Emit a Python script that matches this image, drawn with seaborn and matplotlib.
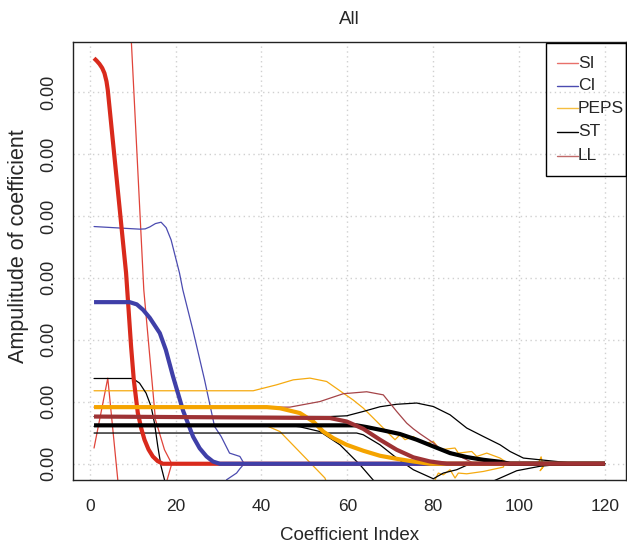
import matplotlib
matplotlib.use("Agg")
import matplotlib.pyplot as plt
import seaborn as sns
from matplotlib.lines import Line2D
from matplotlib.patches import Rectangle
from matplotlib.ticker import FormatStrFormatter

# ---------------- data ----------------
methods = ["SI", "CI", "PEPS", "ST", "LL"]

# SI - smoothed (thick)
si_thick_x = [1, 1.6, 2.26, 2.9, 3.43, 3.9, 4.2, 4.59, 5.36, 6.13, 6.92, 7.69, 8.46, 9.63, 10.26, 11.19,
              12.0, 12.75, 13.7, 14.69, 15.8, 17.0, 120]
si_thick_y = [0.003272, 0.003252, 0.003226, 0.003193, 0.003151, 0.003085, 0.003016, 0.002881, 0.002613,
              0.002347, 0.002075, 0.001806, 0.001540, 0.000946, 0.000677, 0.000411, 0.000285, 0.000194,
              0.000115, 0.000059, 0.000022, 0.0, 0.0]
# SI - raw (thin), two visible pieces
si_thin_a_x = [1, 4.2, 6.53, 6.76]
si_thin_a_y = [0.000127, 0.000691, -0.000129, -0.00021]
si_thin_b_x = [9.44, 12.59, 15.31, 17.41, 19.1, 17.7]
si_thin_b_y = [0.00358, 0.001403, 0.000355, 0.000113, 0.0, -0.000169]

# CI
ci_thick_x = [1, 9.3, 10.96, 12.42, 13.99, 16.32, 17.72, 19.35, 21.75, 24.08, 25.6, 27.2, 28.7, 30.3, 120]
ci_thick_y = [0.001304, 0.001304, 0.001286, 0.001242, 0.001177, 0.001054, 0.000919, 0.00071, 0.000427,
              0.000218, 0.000125, 0.000059, 0.000018, 0.0, 0.0]
ci_thin_x = [1, 11.59, 12.9, 13.99, 15.3, 16.62, 17.8, 18.95, 20.91, 21.68, 24.01, 26.74, 29.07, 30.61,
             32.56, 34.97, 35.97, 34.97, 34.2, 31.87, 31.2]
ci_thin_y = [0.001914, 0.001893, 0.001895, 0.001911, 0.001938, 0.001949, 0.001905, 0.001806, 0.001538,
             0.001403, 0.001081, 0.000677, 0.000301, 0.00022, 0.000086, 0.000059, 0.0, -0.00004,
             -0.000075, -0.000129, -0.00021]

# PEPS
peps_thick_x = [1, 41.26, 44.29, 48.95, 52.05, 54.38, 56.71, 59.84, 63.71, 67.6, 71.49, 75.36, 79.25, 120]
peps_thick_y = [0.000457, 0.000457, 0.000448, 0.000409, 0.000341, 0.00026, 0.000207, 0.000153, 0.000105,
                0.0000645, 0.00004, 0.0000185, 0.0, 0.0]
peps_thin_x = [1, 38.07, 43.52, 47.39, 51.28, 55.17, 59.04, 61.3, 63.71, 66.04, 68.37, 69.93, 71.1, 72.26,
               73.43, 75.36, 76.92, 78.48, 80.02, 81.59, 85.08, 85.85, 88.97, 90.14, 92.47, 95.57, 96.74,
               96.34, 91.68, 87.81, 85.85, 85.08, 83.92, 82.35, 81.19, 80.42, 79.72]
peps_thin_y = [0.000589, 0.000589, 0.000637, 0.000677, 0.000691, 0.000664, 0.00057, 0.000516, 0.000449,
               0.000369, 0.000288, 0.000234, 0.000194, 0.000234, 0.000194, 0.00022, 0.00018, 0.000167,
               0.00018, 0.000113, 0.000127, 0.000086, 0.000099, 0.000059, 0.000086, 0.000046, 0.0000185,
               -0.000027, -0.000062, -0.000081, -0.000075, -0.000115, -0.000048, -0.000089, -0.000075,
               -0.000129, -0.00021]
peps_thin2_x = [41.56, 44.29, 54.78, 55.24]
peps_thin2_y = [0.000301, 0.00026, -0.000115, -0.000161]
peps_thin3_x = [102.56, 104.43, 105.13, 105.6, 104.9, 106.06, 109.56]
peps_thin3_y = [0.0, 0.0, 0.000056, -0.000024, -0.000056, 0.0, 0.0]

# ST
st_thick_x = [1, 62.17, 64.5, 68.37, 72.26, 76.15, 80.02, 83.92, 87.81, 91.68, 95.57, 97.9, 120]
st_thick_y = [0.00031, 0.00031, 0.000296, 0.000269, 0.00024, 0.000194, 0.00014, 0.000086, 0.000054,
              0.000032, 0.000016, 0.0, 0.0]
st_thin1_x = [1, 10.02, 11.59, 13.12, 14.29, 15.08, 15.85, 16.62, 17.41, 17.72]
st_thin1_y = [0.000688, 0.000688, 0.000651, 0.00057, 0.000462, 0.000328, 0.00014, -0.000022, -0.000129, -0.00021]
st_thin2_x = [1, 48.02, 48.95, 53.61, 58.28, 62.94, 66.43, 67.13]
st_thin2_y = [0.000302, 0.000302, 0.000298, 0.00026, 0.000153, -0.000008, -0.000148, -0.00021]
st_thin3_x = [1, 62.17, 63.71, 67.6, 71.49, 75.36, 80.02, 82.35, 85.48, 88.58, 120]
st_thin3_y = [0.000248, 0.000248, 0.000234, 0.000153, 0.000046, -0.000048, -0.000121, -0.000075,
              -0.000048, 0.0, 0.0]
st_thin4_x = [1, 55.94, 59.84, 63.71, 67.6, 71.49, 76.15, 80.02, 83.92, 87.81, 91.68, 95.57, 97.9,
              101.0, 104.9, 111.12, 114.2, 120]
st_thin4_y = [0.000381, 0.000381, 0.000387, 0.000422, 0.00046, 0.00048, 0.00049, 0.000462, 0.000395,
              0.000288, 0.00022, 0.000153, 0.000099, 0.000046, 0.000032, 0.00001, 0.0, 0.0]
st_thin5_x = [92.77, 93.64, 99.46, 104.9, 111.12, 120]
st_thin5_y = [-0.00021, -0.000145, -0.000056, -0.00002, 0.0, 0.0]

# LL
ll_thick_x = [1, 55.94, 59.84, 63.71, 67.6, 71.49, 75.36, 79.25, 83.15, 120]
ll_thick_y = [0.000381, 0.000369, 0.000341, 0.000282, 0.000194, 0.000113, 0.000052, 0.0000185, 0.0, 0.0]
ll_thin_x = [1, 46.62, 53.61, 59.04, 64.5, 68.37, 71.49, 73.82, 75.36, 76.92, 80.02, 81.59, 83.92, 87.81, 89.74, 120]
ll_thin_y = [0.000457, 0.000457, 0.000502, 0.000565, 0.000581, 0.000556, 0.000422, 0.000328, 0.000282,
             0.000242, 0.000169, 0.000121, 0.000097, 0.000032, 0.0, 0.0]

x_ticks = [0, 20, 40, 60, 80, 100, 120]
y_ticks = [0.0, 0.0005, 0.001, 0.0015, 0.002, 0.0025, 0.003]

# ---------------- style ----------------
thick_col = {"SI": "#D92A1C", "CI": "#3F3FA8", "PEPS": "#F5A400", "ST": "#000000", "LL": "#9E3234"}
thin_col = {"SI": "#E0443A", "CI": "#4B4BB0", "PEPS": "#F5AA10", "ST": "#000000", "LL": "#A54448"}
leg_col = {"SI": "#E8706A", "CI": "#4B4BB0", "PEPS": "#F5BE40", "ST": "#000000", "LL": "#C06A6A"}

sns.set_style("white")
plt.rcParams['font.family'] = ['Liberation Sans', 'DejaVu Sans']

W, H = 627, 546
L, R, T, B = 73, 626, 42, 480
fig = plt.figure(figsize=(W / 100, H / 100), dpi=100)
ax = fig.add_axes([L / W, 1 - B / H, (R - L) / W, (B - T) / H])

thin_lw = 0.9
thick_lw = 3.0

thin_lines = [
    (si_thin_a_x, si_thin_a_y, "SI"), (si_thin_b_x, si_thin_b_y, "SI"),
    (ci_thin_x, ci_thin_y, "CI"),
    (peps_thin_x, peps_thin_y, "PEPS"), (peps_thin2_x, peps_thin2_y, "PEPS"), (peps_thin3_x, peps_thin3_y, "PEPS"),
    (st_thin1_x, st_thin1_y, "ST"), (st_thin2_x, st_thin2_y, "ST"), (st_thin3_x, st_thin3_y, "ST"),
    (st_thin4_x, st_thin4_y, "ST"), (st_thin5_x, st_thin5_y, "ST"),
    (ll_thin_x, ll_thin_y, "LL"),
]
thick_lines = [
    (si_thick_x, si_thick_y, "SI"), (ci_thick_x, ci_thick_y, "CI"), (peps_thick_x, peps_thick_y, "PEPS"),
    (st_thick_x, st_thick_y, "ST"), (ll_thick_x, ll_thick_y, "LL"),
]

for xs, ys, m in thin_lines:
    sns.lineplot(x=xs, y=ys, ax=ax, color=thin_col[m], linewidth=thin_lw, sort=False,
                 estimator=None, legend=False)
for xs, ys, m in thick_lines:
    sns.lineplot(x=xs, y=ys, ax=ax, color=thick_col[m], linewidth=thick_lw, sort=False,
                 estimator=None, legend=False, solid_capstyle="butt", solid_joinstyle="round")

ax.set_xlim(-3.9, 124.9)
ax.set_ylim(-0.000131, 0.003403)
ax.set_xticks(x_ticks)
ax.set_yticks(y_ticks)
ax.yaxis.set_major_formatter(FormatStrFormatter('%.2f'))
ax.grid(True, linestyle=(0, (1, 2.5)), color="#D0D0D0", linewidth=1)
ax.set_axisbelow(True)

ax.tick_params(axis='both', direction='out', length=7, width=1, color='#333333')
ax.tick_params(axis='x', pad=7, labelsize=12.5)
ax.tick_params(axis='y', pad=4, labelsize=13)
for lbl in ax.get_yticklabels():
    lbl.set_rotation(90)
    lbl.set_va('center')
for s in ax.spines.values():
    s.set_color('#222222')
    s.set_linewidth(1)

ax.set_title("All", fontsize=13.5, pad=13)
ax.set_xlabel("Coefficient Index", fontsize=13.5)
ax.set_ylabel("Ampulitude of coefficient", fontsize=15.5)
ax.xaxis.set_label_coords(0.5, -(536 - B) / (B - T))
ax.xaxis.label.set_va('center')
ax.yaxis.set_label_coords(-(L - 19) / (R - L), (B - 246) / (B - T))
ax.yaxis.label.set_va('center')


# ---- legend box (R style), placed in axes-fraction coordinates ----
def fx(px):
    return (px - L) / (R - L)


def fy(py):
    return (B - py) / (B - T)


ax.add_patch(Rectangle((fx(546), fy(176)), fx(626) - fx(546), fy(43) - fy(176), transform=ax.transAxes,
                       fill=False, edgecolor='black', linewidth=1, clip_on=False, zorder=5))
row_y = [63.3, 86, 108.3, 131.7, 156]
for m, ry in zip(methods, row_y):
    ax.add_line(Line2D([fx(557), fx(578)], [fy(ry), fy(ry)], transform=ax.transAxes, color=leg_col[m],
                       linewidth=1, clip_on=False, zorder=5))
    ax.text(fx(578), fy(ry), m, transform=ax.transAxes, fontsize=12.5, va='center', ha='left',
            clip_on=False, zorder=5)

fig.savefig("out.png", dpi=100)
